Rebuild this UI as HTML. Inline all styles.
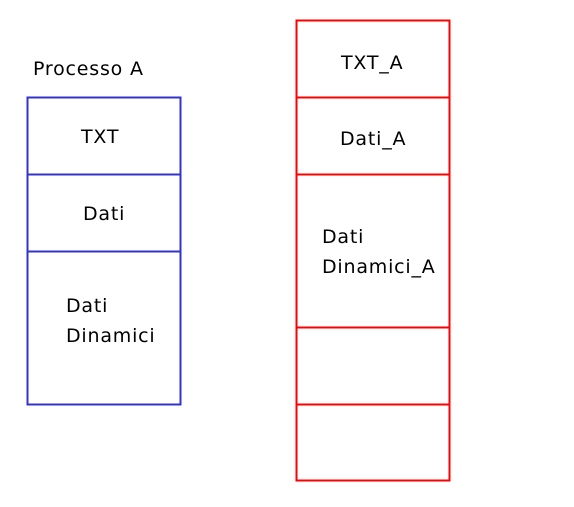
<!DOCTYPE html>
<html><head><meta charset="utf-8"><style>
html,body{margin:0;padding:0;background:#fff;width:574px;height:507px;overflow:hidden}
text{font-family:"DejaVu Sans","Liberation Sans",sans-serif;font-size:19px;letter-spacing:0.8px;fill:#000}
</style></head><body>
<svg width="574" height="507" xmlns="http://www.w3.org/2000/svg">
<g fill="none" stroke="#3333cc" stroke-width="2">
<rect x="27.5" y="97.5" width="153" height="307"/>
<line x1="27.5" y1="174.5" x2="180.5" y2="174.5"/>
<line x1="27.5" y1="251.5" x2="180.5" y2="251.5"/>
</g>
<g fill="none" stroke="#ff0000" stroke-width="2">
<rect x="296.5" y="20.5" width="153" height="460"/>
<line x1="296.5" y1="97.5" x2="449.5" y2="97.5"/>
<line x1="296.5" y1="174.5" x2="449.5" y2="174.5"/>
<line x1="296.5" y1="327.5" x2="449.5" y2="327.5"/>
<line x1="296.5" y1="404.5" x2="449.5" y2="404.5"/>
</g>
<text x="33" y="75">Processo A</text>
<text x="81" y="143">TXT</text>
<text x="83" y="220">Dati</text>
<text x="66" y="312">Dati</text>
<text x="66" y="342">Dinamici</text>
<text x="341" y="69">TXT_A</text>
<text x="340" y="145">Dati_A</text>
<text x="322" y="243">Dati</text>
<text x="322" y="273">Dinamici_A</text>
</svg>
</body></html>
